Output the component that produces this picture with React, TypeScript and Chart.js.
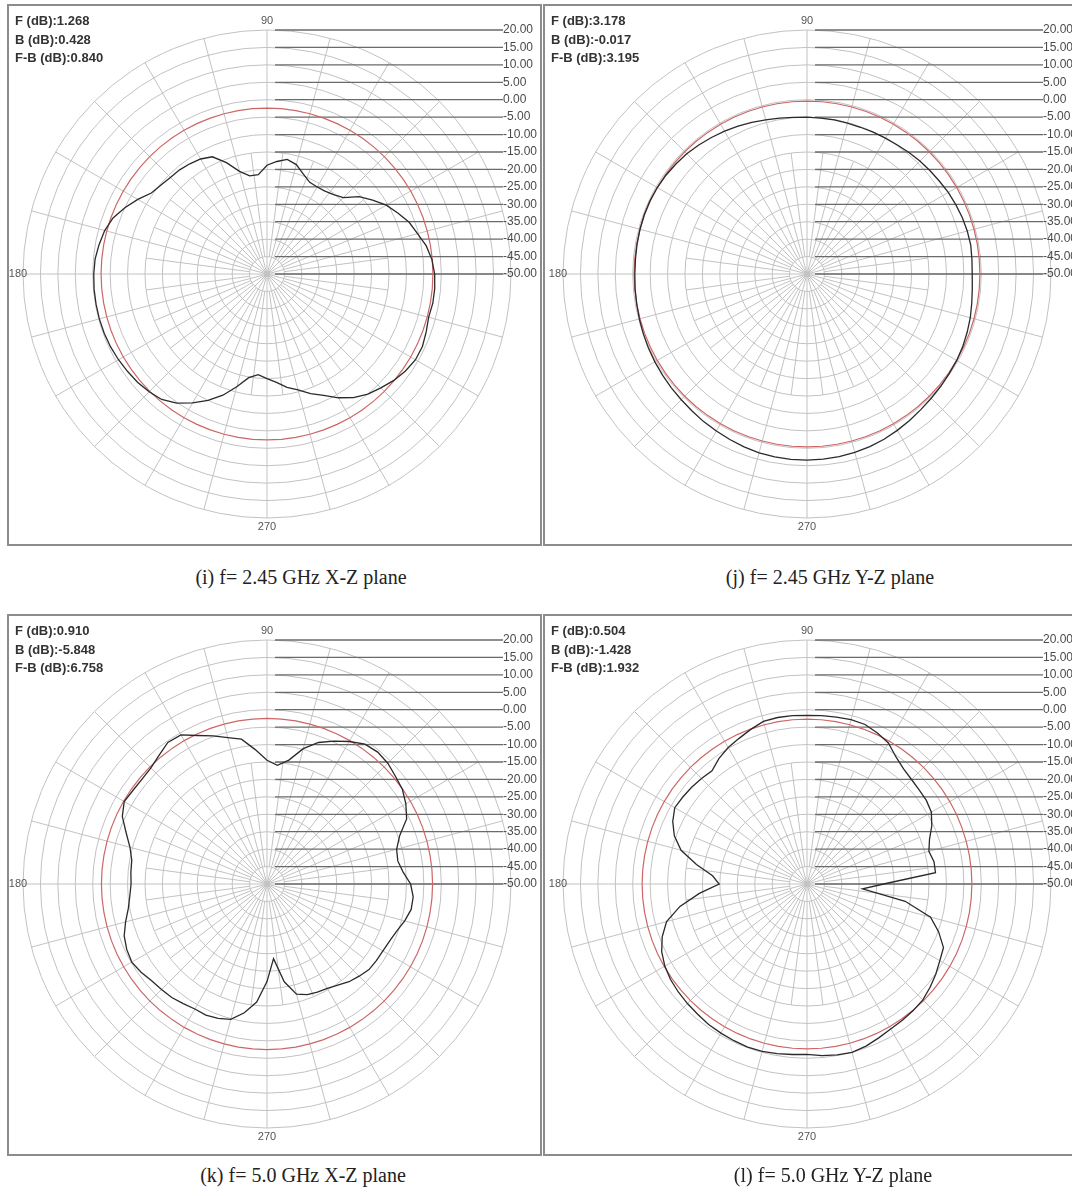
import React, { useEffect, useRef } from 'react';
import { Chart, registerables } from 'chart.js';

Chart.register(...registerables);

// Angles in degrees, counter-clockwise from +x (0 = right, 90 = up)
const ANGLES: number[] = [
  0, 5, 10, 15, 20, 25, 30, 35, 40, 45, 50, 55, 60, 65, 70, 75, 80, 85,
  90, 95, 100, 105, 110, 115, 120, 125, 130, 135, 140, 145, 150, 155, 160, 165, 170, 175,
  180, 185, 190, 195, 200, 205, 210, 215, 220, 225, 230, 235, 240, 245, 250, 255, 260, 265,
  270, 275, 280, 285, 290, 295, 300, 305, 310, 315, 320, 325, 330, 335, 340, 345, 350, 355,
];

// Radial ring values (dB)
const RING_VALUES: number[] = [20, 15, 10, 5, 0, -5, -10, -15, -20, -25, -30, -35, -40, -45, -50];
const R_MIN = -50;
const R_MAX = 20;

const AXIS_LABELS: string[] = ['90', '180', '270'];

// (i) 2.45 GHz X-Z plane, dB at ANGLES
const XZ_245: number[] = [
  -1.9, -2.5, -3.6, -5.3, -6.6, -8.6, -10.5, -13.0, -15.5, -19.0, -20.3, -21.0, -21.2, -21.0, -19.5, -17.5, -16.6, -17.6,
  -18.8, -21.4, -21.4, -19.5, -16.0, -12.9, -11.9, -11.4, -11.0, -10.8, -10.3, -9.5, -7.2, -5.0, -3.0, -1.8, -1.1, -0.5,
  -0.3, -0.2, -0.2, -0.2, -0.3, -0.5, -0.8, -1.2, -1.6, -2.2, -3.0, -4.8, -7.3, -10.0, -13.0, -16.5, -19.8, -21.0,
  -20.0, -18.8, -17.0, -15.6, -13.5, -11.6, -9.0, -6.7, -5.0, -3.8, -2.5, -1.5, -0.8, -0.8, -1.4, -2.0, -1.7, -1.7,
];

// (j) 2.45 GHz Y-Z plane
const YZ_245: number[] = [
  -2.6, -2.5, -2.3, -2.4, -2.6, -2.9, -3.2, -3.6, -3.9, -4.2, -4.5, -4.8, -5.0, -5.1, -5.2, -5.2, -5.1, -5.1,
  -5.0, -4.9, -4.6, -4.2, -3.7, -3.2, -2.7, -2.2, -1.7, -1.2, -0.9, -0.6, -0.4, -0.3, -0.3, -0.4, -0.5, -0.6,
  -0.6, -0.5, -0.4, -0.2, 0.0, 0.2, 0.4, 0.6, 0.8, 1.0, 1.3, 1.7, 2.0, 2.4, 2.8, 3.1, 3.3, 3.4,
  3.4, 3.3, 3.2, 3.0, 2.7, 2.3, 1.8, 1.3, 0.8, 0.4, 0.1, -0.2, -0.4, -0.7, -1.1, -1.5, -2.0, -2.4,
];

// (k) 5.0 GHz X-Z plane
const XZ_50: number[] = [
  -8.8, -10.8, -11.9, -11.5, -9.5, -5.8, -4.0, -2.6, -1.9, -1.0, -0.6, -1.0, -2.8, -4.8, -6.8, -9.8, -13.9, -15.8,
  -14.5, -11.3, -7.8, -6.5, -4.8, -3.0, -0.6, -0.4, -1.8, -2.9, -3.2, -3.1, -2.7, -4.2, -7.0, -9.3, -10.6, -10.8,
  -11.0, -10.5, -9.6, -8.0, -6.4, -5.6, -5.2, -5.9, -6.8, -7.2, -7.5, -8.1, -8.6, -8.5, -9.0, -9.8, -12.5, -16.0,
  -22.0, -28.5, -21.5, -17.3, -16.2, -15.8, -15.4, -14.6, -13.4, -12.6, -11.8, -11.7, -11.6, -11.2, -10.4, -9.1, -8.0, -7.9,
];

// (l) 5.0 GHz Y-Z plane
const YZ_50: number[] = [
  -28.0, -13.0, -13.0, -13.8, -12.6, -10.5, -8.8, -8.2, -8.0, -7.6, -6.9, -5.5, -3.3, -2.2, -1.3, -1.2, -1.4, -1.5,
  -1.6, -1.5, -1.5, -1.7, -2.8, -3.9, -4.8, -6.0, -7.6, -7.2, -6.8, -6.5, -6.2, -7.5, -9.5, -12.6, -17.8, -22.8,
  -24.8, -19.0, -13.0, -8.3, -5.8, -4.0, -2.9, -2.2, -1.8, -1.5, -1.2, -0.8, -0.6, -0.4, -0.2, -0.3, -0.6, -0.9,
  -1.1, -0.6, -0.2, 0.0, -0.5, -1.3, -2.0, -2.3, -2.6, -3.0, -3.9, -4.9, -6.0, -6.8, -9.8, -13.3, -21.4, -34.0,
];

// Reference (red) circle level, dB
const REF_LEVELS: number[] = [-2.4, -0.4, -2.5, -2.7];

const F_VALUES: string[] = ['1.268', '3.178', '0.910', '0.504'];
const B_VALUES: string[] = ['0.428', '-0.017', '-5.848', '-1.428'];
const FB_VALUES: string[] = ['0.840', '3.195', '6.758', '1.932'];

const CAPTIONS: string[] = [
  '(i) f= 2.45 GHz X-Z plane',
  '(j) f= 2.45 GHz Y-Z plane',
  '(k) f= 5.0 GHz X-Z plane',
  '(l) f= 5.0 GHz Y-Z plane',
];

const SERIES: number[][] = [XZ_245, YZ_245, XZ_50, YZ_50];

// layout
const PANEL_W = 535;
const PANEL_H = 542;
const RADIUS = 244;
const PANELS = [
  { left: 7, top: 4, cx: 260, cy: 270 },
  { left: 543, top: 4, cx: 264, cy: 270 },
  { left: 7, top: 614, cx: 260, cy: 270 },
  { left: 543, top: 614, cx: 264, cy: 270 },
];
const CAPTION_POS = [
  { x: 301, y: 577 },
  { x: 830, y: 577 },
  { x: 303, y: 1175 },
  { x: 833, y: 1175 },
];

const GRID = '#c2c2c2';
const SANS = '"Liberation Sans", Arial, sans-serif';

// labels ordered clockwise for the radar scale (index 0 at the right)
const ORDERED_ANGLES: number[] = [ANGLES[0], ...ANGLES.slice(1).reverse()];
const reorder = (vals: number[]) => ORDERED_ANGLES.map((a) => vals[ANGLES.indexOf(a)]);

function makeOverlay(idx: number) {
  return {
    id: 'polarOverlay' + idx,
    beforeDatasetsDraw(chart: any) {
      const s = chart.scales.r;
      const ctx = chart.ctx as CanvasRenderingContext2D;
      const cx = s.xCenter;
      const cy = s.yCenter;
      ctx.save();
      // finer spokes in the inner zone
      ctx.strokeStyle = GRID;
      ctx.lineWidth = 1;
      const r0 = s.getDistanceFromCenterForValue(-45);
      const r1 = s.getDistanceFromCenterForValue(-15);
      for (let a = 7.5; a < 360; a += 15) {
        const t = (a * Math.PI) / 180;
        ctx.beginPath();
        ctx.moveTo(cx + r0 * Math.cos(t), cy - r0 * Math.sin(t));
        ctx.lineTo(cx + r1 * Math.cos(t), cy - r1 * Math.sin(t));
        ctx.stroke();
      }
      // level legend lines
      ctx.strokeStyle = '#6a6a6a';
      ctx.lineWidth = 1.3;
      RING_VALUES.forEach((v) => {
        const y = cy - s.getDistanceFromCenterForValue(v);
        ctx.beginPath();
        ctx.moveTo(cx + 8, y);
        ctx.lineTo(cx + 236, y);
        ctx.stroke();
      });
      ctx.restore();
    },
    afterDraw(chart: any) {
      const s = chart.scales.r;
      const ctx = chart.ctx as CanvasRenderingContext2D;
      const cx = s.xCenter;
      const cy = s.yCenter;
      const R = s.getDistanceFromCenterForValue(R_MAX);
      ctx.save();
      ctx.fillStyle = '#4a4a4a';
      ctx.font = '12px ' + SANS;
      ctx.textBaseline = 'middle';
      ctx.textAlign = 'left';
      RING_VALUES.forEach((v) => {
        const y = cy - s.getDistanceFromCenterForValue(v);
        ctx.fillText(v.toFixed(2), cx + 236, y);
      });
      ctx.font = '11px ' + SANS;
      ctx.fillStyle = '#555';
      ctx.textAlign = 'center';
      ctx.fillText(AXIS_LABELS[0], cx, cy - R - 9);
      ctx.fillText(AXIS_LABELS[2], cx, cy + R + 9);
      ctx.fillText(AXIS_LABELS[1], cx - R - 5, cy);
      // stats
      ctx.fillStyle = '#333';
      ctx.font = 'bold 13px ' + SANS;
      ctx.textAlign = 'left';
      ctx.fillText('F (dB):' + F_VALUES[idx], 8, 17.5);
      ctx.fillText('B (dB):' + B_VALUES[idx], 8, 36);
      ctx.fillText('F-B (dB):' + FB_VALUES[idx], 8, 54.5);
      ctx.restore();
    },
  };
}

function PolarPanel({ idx }: { idx: number }) {
  const ref = useRef<HTMLCanvasElement | null>(null);
  const p = PANELS[idx];
  useEffect(() => {
    if (!ref.current) return;
    const vals = SERIES[idx];
    const refLevel = REF_LEVELS[idx];
    const chart = new Chart(ref.current, {
      type: 'radar',
      data: {
        labels: ORDERED_ANGLES.map((a) => String(a)),
        datasets: [
          {
            label: 'measured',
            data: reorder(vals),
            borderColor: '#2a2a2a',
            borderWidth: 1.3,
            fill: false,
            pointRadius: 0,
          },
          {
            label: 'reference',
            data: ORDERED_ANGLES.map(() => refLevel),
            borderColor: '#cc6666',
            borderWidth: 1.2,
            fill: false,
            pointRadius: 0,
          },
        ],
      },
      options: {
        animation: false,
        responsive: false,
        events: [],
        layout: {
          padding: {
            left: p.cx - RADIUS,
            top: p.cy - RADIUS,
            right: PANEL_W - (p.cx + RADIUS),
            bottom: PANEL_H - (p.cy + RADIUS),
          },
        },
        plugins: { legend: { display: false }, tooltip: { enabled: false } },
        elements: { line: { tension: 0 }, point: { radius: 0 } },
        scales: {
          r: {
            min: R_MIN,
            max: R_MAX,
            startAngle: 90,
            ticks: { stepSize: 5, display: false },
            grid: { circular: true, color: GRID, lineWidth: 1 },
            angleLines: {
              display: true,
              color: GRID,
              lineWidth: (c: any) => (ORDERED_ANGLES[c.index] % 15 === 0 ? 1 : 0),
            },
            pointLabels: { display: false },
          },
        },
      },
      plugins: [makeOverlay(idx)],
    } as any);
    return () => chart.destroy();
  }, [idx]);
  return (
    <>
      <canvas
        ref={ref}
        width={PANEL_W}
        height={PANEL_H}
        style={{ position: 'absolute', left: p.left, top: p.top, width: PANEL_W, height: PANEL_H }}
      />
      <div
        style={{
          position: 'absolute',
          left: p.left,
          top: p.top,
          width: PANEL_W,
          height: PANEL_H,
          border: '2px solid #8c8c8c',
          boxSizing: 'border-box',
          pointerEvents: 'none',
        }}
      />
    </>
  );
}

export default function App() {
  return (
    <div
      style={{
        position: 'absolute',
        left: 0,
        top: 0,
        width: 1072,
        height: 1196,
        overflow: 'hidden',
        background: '#fff',
      }}
    >
      {PANELS.map((_, i) => (
        <PolarPanel key={i} idx={i} />
      ))}
      {CAPTIONS.map((c, i) => (
        <div
          key={'c' + i}
          style={{
            position: 'absolute',
            left: CAPTION_POS[i].x - 200,
            top: CAPTION_POS[i].y - 12,
            width: 400,
            textAlign: 'center',
            fontFamily: '"Liberation Serif", "Times New Roman", serif',
            fontSize: 20,
            lineHeight: '24px',
            color: '#222',
            whiteSpace: 'nowrap',
          }}
        >
          {c}
        </div>
      ))}
    </div>
  );
}
